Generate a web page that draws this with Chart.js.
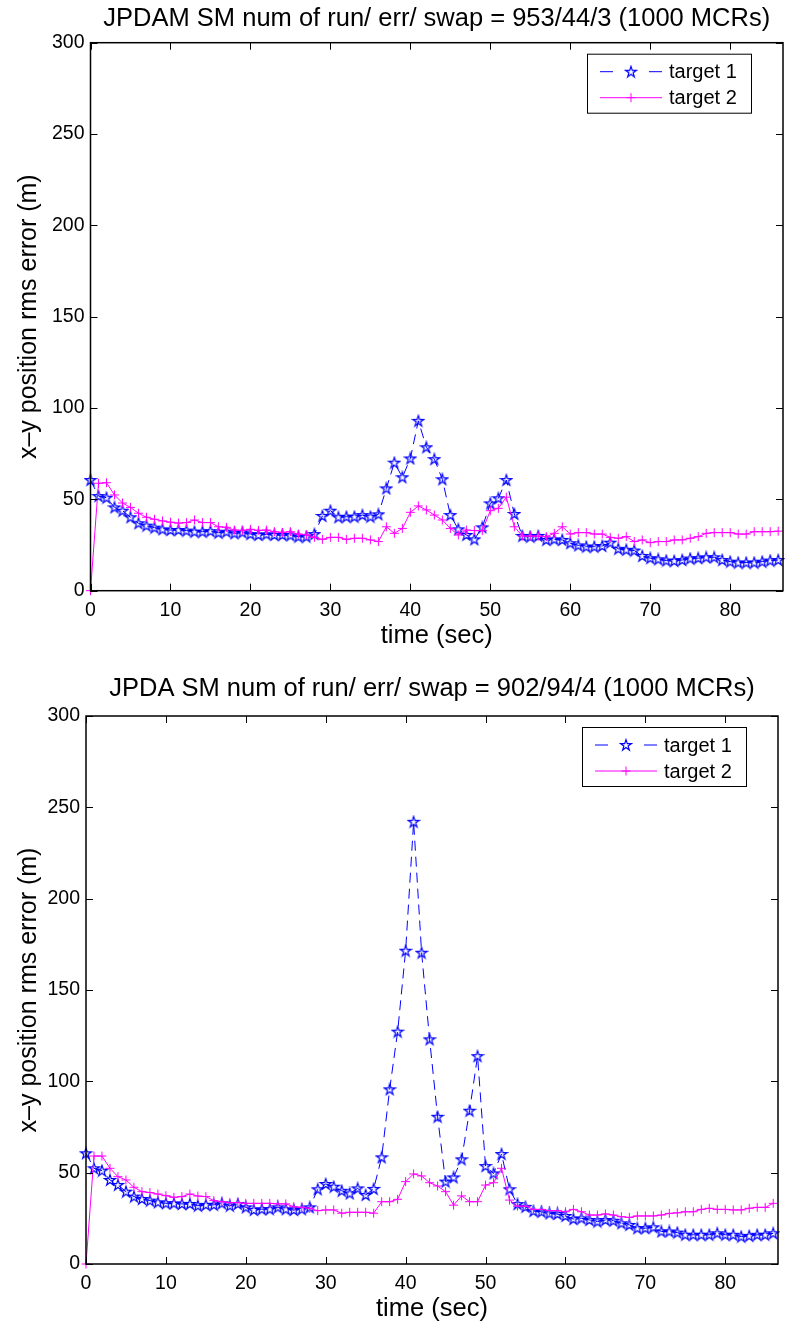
<!DOCTYPE html>
<html>
<head>
<meta charset="utf-8">
<script src="https://cdn.jsdelivr.net/npm/chart.js@4.4.1/dist/chart.umd.min.js"></script>
<style>
  body { margin: 0; background: #fff; }
  .plot { position: absolute; left: 0; }
  canvas { display: block; }
</style>
</head>
<body>
<div class="plot" style="top:0"><canvas id="top" width="785" height="666"></canvas></div>
<div class="plot" style="top:666px"><canvas id="bottom" width="785" height="666"></canvas></div>
<script>
// time (sec)
const time = [0,1,2,3,4,5,6,7,8,9,10,11,12,13,14,15,16,17,18,19,20,21,22,23,24,25,26,27,28,29,
  30,31,32,33,34,35,36,37,38,39,40,41,42,43,44,45,46,47,48,49,50,51,52,53,54,55,56,57,58,59,
  60,61,62,63,64,65,66,67,68,69,70,71,72,73,74,75,76,77,78,79,80,81,82,83,84,85,86];

// JPDAM
const jpdamTarget1 = [60.6,51.8,50.9,45.6,43.8,40.2,36.9,35.6,34.5,33.6,33.2,33.2,32.9,32.3,32.3,32.6,31.7,32.3,31.4,31.9,
  31.0,30.5,30.9,30.5,30.5,30.3,29.6,29.6,31.0,40.9,43.8,40.2,40.5,40.5,41.4,40.5,41.8,56.0,70.1,62.1,
  72.4,93.0,78.5,72.0,61.0,41.4,33.6,30.5,28.1,34.7,47.8,50.6,60.6,42.0,30.0,29.6,30.0,27.8,28.1,27.8,
  26.0,24.8,24.1,24.1,24.5,26.3,22.9,22.4,22.0,19.0,17.8,17.2,16.5,16.3,16.8,17.6,17.8,18.3,18.3,16.8,
  15.9,15.4,15.4,15.4,15.9,16.5,16.8];
const jpdamTarget2 = [0,58.8,59.1,52.4,48.0,45.6,42.4,40.2,39.1,38.2,37.5,37.0,37.3,38.7,37.3,37.3,35.0,34.7,33.2,33.0,
  33.6,33.0,33.2,32.3,31.9,32.3,31.0,30.6,29.2,28.1,29.2,29.2,28.1,28.7,28.7,27.8,26.9,35.0,31.4,34.1,
  42.9,46.4,44.2,41.4,38.7,34.1,30.5,33.2,32.9,32.9,43.8,45.1,51.2,35.0,29.9,29.9,29.9,29.6,31.4,35.0,
  31.0,31.8,31.8,31.0,31.0,29.2,28.7,29.6,26.9,27.8,26.3,26.9,26.9,27.8,27.8,28.7,29.6,31.4,31.8,31.8,
  31.8,31.0,31.0,32.3,32.3,32.3,32.6];

// JPDA
const jpdaTarget1 = [60.6,52.4,51.1,46.0,43.3,39.6,36.9,35.6,34.7,33.8,33.2,33.2,32.9,32.9,31.9,32.4,32.4,33.2,31.9,32.9,
  31.0,29.6,30.0,30.0,31.0,30.0,29.6,30.0,31.0,40.9,43.8,42.3,40.1,38.6,41.4,37.8,41.1,58.4,95.6,127.2,
  171.5,242.1,170.4,123.0,80.6,45.1,47.4,57.3,83.9,113.8,53.6,49.6,60.2,40.9,32.8,31.3,29.0,28.6,27.7,27.4,
  26.3,24.6,25.0,24.1,23.2,24.1,23.7,22.3,21.4,19.6,19.6,20.1,17.8,17.8,17.2,16.0,16.0,16.0,16.0,16.8,
  16.0,16.0,15.0,15.4,16.0,16.0,16.8];
const jpdaTarget2 = [0,59.1,59.1,52.4,47.8,46.0,42.0,39.6,39.1,38.3,37.4,36.5,36.9,38.3,37.2,36.9,34.7,34.1,33.6,33.6,
  33.2,33.2,33.2,33.2,32.9,32.9,31.4,31.0,30.5,29.2,29.6,29.6,27.8,28.3,28.3,28.3,27.8,34.1,34.1,35.4,
  45.1,49.3,48.2,44.5,42.7,39.6,32.2,37.3,34.1,34.1,43.2,44.5,52.4,35.0,31.7,31.7,29.9,29.9,29.2,29.2,
  28.6,29.9,28.6,26.8,26.8,27.4,26.8,25.9,25.5,26.3,26.3,26.3,26.8,27.7,28.0,28.6,28.6,29.9,30.5,29.9,
  29.9,29.6,29.6,30.5,31.0,31.0,33.2];

const xTicks = [0,10,20,30,40,50,60,70,80];
const yTicks = [0,50,100,150,200,250,300];
const seriesLabels = ['target 1', 'target 2'];

const FONT = '"Liberation Sans", Arial, Helvetica, sans-serif';

// hollow pentagram marker like MATLAB 'p'
function pentagram(color) {
  const c = document.createElement('canvas');
  c.width = 14; c.height = 14;
  const g = c.getContext('2d');
  const R = 5.8, r = R * 0.382;
  g.beginPath();
  for (let i = 0; i < 10; i++) {
    const a = -Math.PI / 2 + i * Math.PI / 5;
    const rad = i % 2 ? r : R;
    const px = 7 + rad * Math.cos(a), py = 7.4 + rad * Math.sin(a);
    i ? g.lineTo(px, py) : g.moveTo(px, py);
  }
  g.closePath();
  g.strokeStyle = color;
  g.lineWidth = 1.2;
  g.stroke();
  return c;
}
const starImg = pentagram('#0000ff');

const boxAndLegend = {
  id: 'boxAndLegend',
  afterDraw(chart) {
    const {ctx, chartArea: a, scales: {x, y}} = chart;
    ctx.save();
    ctx.strokeStyle = '#000';
    ctx.lineWidth = 1;
    ctx.beginPath();
    x.ticks.forEach(t => {
      const px = Math.round(x.getPixelForValue(t.value)) + 0.5;
      ctx.moveTo(px, a.bottom); ctx.lineTo(px, a.bottom - 7);
      ctx.moveTo(px, a.top); ctx.lineTo(px, a.top + 7);
    });
    y.ticks.forEach(t => {
      const py = Math.round(y.getPixelForValue(t.value)) + 0.5;
      ctx.moveTo(a.left, py); ctx.lineTo(a.left + 7, py);
      ctx.moveTo(a.right, py); ctx.lineTo(a.right - 7, py);
    });
    ctx.stroke();
    ctx.lineWidth = 1.5;
    ctx.strokeRect(a.left, a.top, a.width, a.height);

    // legend box
    const bw = 164, bh = 59;
    const bx = a.right - 32 - bw, by = a.top + 11;
    ctx.fillStyle = '#fff';
    ctx.fillRect(bx, by, bw, bh);
    ctx.lineWidth = 1;
    ctx.strokeRect(bx + 0.5, by + 0.5, bw, bh);
    ctx.font = '20px ' + FONT;
    ctx.textBaseline = 'middle';
    ctx.textAlign = 'left';
    chart.data.datasets.forEach((ds, i) => {
      const cy = by + 18 + i * 26;
      const x0 = bx + 13, x1 = bx + 75, cx = (x0 + x1) / 2;
      ctx.strokeStyle = ds.borderColor;
      ctx.lineWidth = 1;
      ctx.beginPath();
      if (ds.borderDash) {
        ctx.moveTo(x0, cy); ctx.lineTo(x0 + 13, cy);
        ctx.moveTo(x1 - 13, cy); ctx.lineTo(x1, cy);
      } else {
        ctx.moveTo(x0, cy); ctx.lineTo(x1, cy);
      }
      ctx.stroke();
      Chart.helpers.drawPoint(ctx, {
        pointStyle: ds.pointStyle, radius: ds.pointRadius, rotation: 0, borderWidth: ds.pointBorderWidth
      }, cx, cy);
      ctx.fillStyle = '#000';
      ctx.fillText(ds.label, bx + 82, cy + 1);
    });
    ctx.restore();
  }
};

function makeChart(id, title, s1, s2, geo) {
  const pts = vals => time.map((t, i) => ({x: t, y: vals[i]}));
  return new Chart(document.getElementById(id), {
    type: 'line',
    data: {
      datasets: [{
        label: seriesLabels[0],
        data: pts(s1),
        borderColor: '#0000ff',
        borderWidth: 1,
        borderDash: [10, 6],
        pointStyle: starImg,
        pointRadius: 5,
        pointBorderColor: '#0000ff',
        pointBorderWidth: 1,
        tension: 0,
        clip: 10,
        order: 2
      }, {
        label: seriesLabels[1],
        data: pts(s2),
        borderColor: '#ff00ff',
        borderWidth: 1,
        pointStyle: 'cross',
        pointRadius: 4.5,
        pointBorderColor: '#ff00ff',
        pointBorderWidth: 1,
        tension: 0,
        clip: 10,
        order: 1
      }]
    },
    options: {
      responsive: false,
      animation: false,
      events: [],
      layout: { autoPadding: false, padding: { left: 0, right: geo.right, top: 0, bottom: 0 } },
      plugins: {
        legend: { display: false },
        tooltip: { enabled: false },
        title: {
          display: true,
          text: title,
          fullSize: false,
          color: '#000',
          font: { family: FONT, size: 25.5, weight: 'normal', lineHeight: 1.2 },
          padding: { top: geo.titleTop, bottom: geo.titleBottom }
        }
      },
      scales: {
        x: {
          type: 'linear',
          min: 0,
          max: 86.6,
          afterBuildTicks: s => { s.ticks = xTicks.map(v => ({value: v})); },
          afterFit: s => { s.height = geo.xHeight; },
          grid: { display: false, drawTicks: false },
          border: { display: false },
          ticks: { color: '#000', padding: 8, maxRotation: 0, font: { family: FONT, size: 19.5 } },
          title: {
            display: true, text: 'time (sec)', color: '#000',
            font: { family: FONT, size: 25.5 }, padding: { top: 0, bottom: geo.xTitlePad }
          }
        },
        y: {
          min: 0,
          max: 300,
          afterBuildTicks: s => { s.ticks = yTicks.map(v => ({value: v})); },
          afterFit: s => { s.width = geo.yWidth; },
          grid: { display: false, drawTicks: false },
          border: { display: false },
          ticks: { color: '#000', padding: 6, font: { family: FONT, size: 19.5 } },
          title: {
            display: true, text: 'x\u2013y position rms error (m)', color: '#000',
            font: { family: FONT, size: 25 }, padding: { top: 14, bottom: 0 }
          }
        }
      }
    },
    plugins: [boxAndLegend]
  });
}

makeChart('top', 'JPDAM SM num of run/ err/ swap = 953/44/3 (1000 MCRs)', jpdamTarget1, jpdamTarget2,
  { right: 2, yWidth: 90.5, xHeight: 75.3, xTitlePad: 15, titleTop: 3.3, titleBottom: 8.8 });
makeChart('bottom', 'JPDA SM num of run/ err/ swap = 902/94/4 (1000 MCRs)', jpdaTarget1, jpdaTarget2,
  { right: 7, yWidth: 86, xHeight: 68, xTitlePad: 7.7, titleTop: 7.2, titleBottom: 12.2 });
</script>
</body>
</html>
